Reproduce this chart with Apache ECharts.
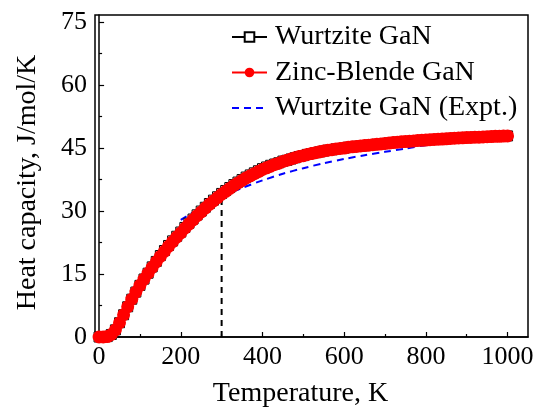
<!DOCTYPE html>
<html>
<head>
<meta charset="utf-8">
<script src="https://cdn.jsdelivr.net/npm/echarts@6/dist/echarts.min.js"></script>
<style>
  html, body { margin: 0; padding: 0; background: #fff; }
  #chart { width: 537px; height: 408px; }
</style>
</head>
<body>
<div id="chart"></div>
<script>
  // temperatures (K), one point every 10 K
  var temps = [
    0, 10, 20, 30, 40, 50, 60, 70, 80, 90,
    100, 110, 120, 130, 140, 150, 160, 170, 180, 190,
    200, 210, 220, 230, 240, 250, 260, 270, 280, 290,
    300, 310, 320, 330, 340, 350, 360, 370, 380, 390,
    400, 410, 420, 430, 440, 450, 460, 470, 480, 490,
    500, 510, 520, 530, 540, 550, 560, 570, 580, 590,
    600, 610, 620, 630, 640, 650, 660, 670, 680, 690,
    700, 710, 720, 730, 740, 750, 760, 770, 780, 790,
    800, 810, 820, 830, 840, 850, 860, 870, 880, 890,
    900, 910, 920, 930, 940, 950, 960, 970, 980, 990,
    1000
  ]

  var wurtzite = [
    0, 0, 0.1, 0.6, 1.7, 3.4, 5.3, 7.2, 9.0, 10.7,
    12.3, 13.8, 15.2, 16.7, 18.0, 19.4, 20.6, 21.8, 22.9, 24.0,
    25.0, 26.1, 27.1, 28.1, 29.1, 30.0, 30.9, 31.8, 32.6, 33.4,
    34.2, 34.9, 35.6, 36.3, 36.9, 37.5, 38.1, 38.6, 39.1, 39.6,
    40.1, 40.5, 40.9, 41.2, 41.5, 41.9, 42.1, 42.4, 42.7, 43.0,
    43.2, 43.5, 43.7, 43.9, 44.1, 44.3, 44.5, 44.6, 44.8, 44.9,
    45.0, 45.2, 45.3, 45.4, 45.5, 45.6, 45.7, 45.8, 45.9, 46.0,
    46.1, 46.2, 46.3, 46.4, 46.5, 46.55, 46.6, 46.7, 46.8, 46.85,
    46.9, 47.0, 47.05, 47.1, 47.15, 47.2, 47.3, 47.35, 47.4, 47.45,
    47.5, 47.55, 47.6, 47.6, 47.65, 47.7, 47.75, 47.8, 47.8, 47.85,
    47.9
  ]

  var zincBlende = [
    0, 0, 0.1, 0.6, 1.7, 3.4, 5.3, 7.2, 9.0, 10.7,
    12.3, 13.8, 15.2, 16.6, 17.9, 19.2, 20.4, 21.6, 22.7, 23.8,
    24.8, 25.9, 26.9, 27.9, 28.9, 29.8, 30.7, 31.6, 32.4, 33.2,
    34.0, 34.7, 35.4, 36.1, 36.7, 37.3, 37.9, 38.4, 38.9, 39.4,
    39.9, 40.3, 40.7, 41.1, 41.4, 41.8, 42.1, 42.4, 42.7, 43.0,
    43.2, 43.5, 43.7, 43.9, 44.1, 44.3, 44.5, 44.6, 44.8, 44.9,
    45.0, 45.2, 45.3, 45.4, 45.5, 45.6, 45.7, 45.8, 45.9, 46.0,
    46.1, 46.2, 46.3, 46.4, 46.5, 46.55, 46.6, 46.7, 46.8, 46.85,
    46.9, 47.0, 47.05, 47.1, 47.15, 47.2, 47.3, 47.35, 47.4, 47.45,
    47.5, 47.55, 47.6, 47.6, 47.65, 47.7, 47.75, 47.8, 47.8, 47.85,
    47.9
  ]

  var exptTemps = [200, 250, 300, 350, 400, 450, 500, 550, 600, 650, 700, 750, 800, 850, 900, 950, 1000]
  var exptValues = [27.9, 30.8, 33.4, 35.5, 37.3, 38.9, 40.2, 41.4, 42.4, 43.3, 44.1, 44.9, 45.7, 46.4, 47.2, 47.8, 48.5]

  // dashed guide at room temperature
  var guideTemps = [300, 300]
  var guideValues = [0, 34]

  var xMajorTicks = [0, 200, 400, 600, 800, 1000]
  var xMinorTicks = [100, 300, 500, 700, 900]
  var yMajorTicks = [0, 15, 30, 45, 60, 75]
  var yMinorTicks = [7.5, 22.5, 37.5, 52.5, 67.5]

  var seriesNames = ['Wurtzite GaN', 'Zinc-Blende GaN', 'Wurtzite GaN (Expt.)']

  var pairs = function (xs, ys) {
    return xs.map(function (x, i) { return [x, ys[i]] })
  }

  var serif = 'Liberation Serif'
  var plain = function (v) {
    return String(v)
  }
  var tickLabel = {
    formatter: plain,
    fontFamily: 'serif',
    fontStyle: 'normal',
    fontWeight: 'normal',
    fontSize: 26,
    color: '#000'
  }

  var myChart = echarts.init(document.getElementById('chart'))

  var option = {
    animation: false,
    backgroundColor: '#fff',
    textStyle: { fontFamily: serif },
    grid: {
      left: 95,
      right: 9,
      top: 15,
      bottom: 71,
      show: true,
      borderColor: '#000',
      borderWidth: 1.5,
      outerBoundsMode: 'none'
    },
    legend: {
      orient: 'vertical',
      left: 226,
      top: 18,
      itemWidth: 35,
      itemHeight: 12,
      itemGap: 7.5,
      textStyle: { fontFamily: serif, fontSize: 28, color: '#000', lineHeight: 27, padding: [0, 0, 0, 3] },
      data: [
        { name: seriesNames[0] },
        { name: seriesNames[1] },
        { name: seriesNames[2], itemStyle: { opacity: 0 } }
      ]
    },
    xAxis: [
      {
        type: 'value',
        position: 'bottom',
        min: -10,
        max: 1050,
        splitLine: { show: false },
        axisLine: { lineStyle: { color: '#000', width: 1.5 } },
        axisTick: { inside: true, length: 5, customValues: xMajorTicks, lineStyle: { color: '#000', width: 1.2 } },
        axisLabel: Object.assign({ customValues: xMajorTicks, margin: 7 }, tickLabel),
        name: 'Temperature, K',
        nameLocation: 'middle',
        nameGap: 43,
        nameTextStyle: { fontFamily: serif, fontSize: 28, color: '#000', padding: [0, 22, 0, 0] }
      },
      {
        type: 'value',
        position: 'bottom',
        min: -10,
        max: 1050,
        splitLine: { show: false },
        axisLine: { show: false },
        axisTick: { inside: true, length: 3, customValues: xMinorTicks, lineStyle: { color: '#000', width: 1.2 } },
        axisLabel: { show: false }
      }
    ],
    yAxis: [
      {
        type: 'value',
        position: 'left',
        min: 0,
        max: 76.7,
        splitLine: { show: false },
        axisLine: { lineStyle: { color: '#000', width: 1.5 } },
        axisTick: { inside: true, length: 5, customValues: yMajorTicks, lineStyle: { color: '#000', width: 1.2 } },
        axisLabel: Object.assign({ customValues: yMajorTicks, margin: 8 }, tickLabel),
        name: 'Heat capacity, J/mol/K',
        nameLocation: 'middle',
        nameGap: 53,
        nameTextStyle: { fontFamily: serif, fontSize: 28, color: '#000', padding: [0, 13, 0, 0] }
      },
      {
        type: 'value',
        position: 'left',
        min: 0,
        max: 76.7,
        splitLine: { show: false },
        axisLine: { show: false },
        axisTick: { inside: true, length: 3, customValues: yMinorTicks, lineStyle: { color: '#000', width: 1.2 } },
        axisLabel: { show: false }
      }
    ],
    series: [
      {
        name: seriesNames[0],
        type: 'line',
        data: pairs(temps, wurtzite),
        symbol: 'rect',
        symbolSize: 10,
        showAllSymbol: true,
        clip: true,
        lineStyle: { color: '#000', width: 1.5 },
        itemStyle: { color: '#fff', borderColor: '#000', borderWidth: 1 }
      },
      {
        name: seriesNames[1],
        type: 'line',
        data: pairs(temps, zincBlende),
        symbol: 'circle',
        symbolSize: 13,
        showAllSymbol: true,
        clip: true,
        lineStyle: { color: '#ff0000', width: 2 },
        itemStyle: { color: '#ff0000' }
      },
      {
        name: seriesNames[2],
        type: 'line',
        data: pairs(exptTemps, exptValues),
        symbol: 'none',
        smooth: 0.3,
        lineStyle: { color: '#0000ff', width: 2, type: [7, 5] },
        itemStyle: { color: '#0000ff' }
      },
      {
        name: 'guide',
        type: 'line',
        data: pairs(guideTemps, guideValues),
        symbol: 'none',
        lineStyle: { color: '#000', width: 2, type: [6, 5] }
      }
    ]
  }

  myChart.setOption(option)
</script>
</body>
</html>
